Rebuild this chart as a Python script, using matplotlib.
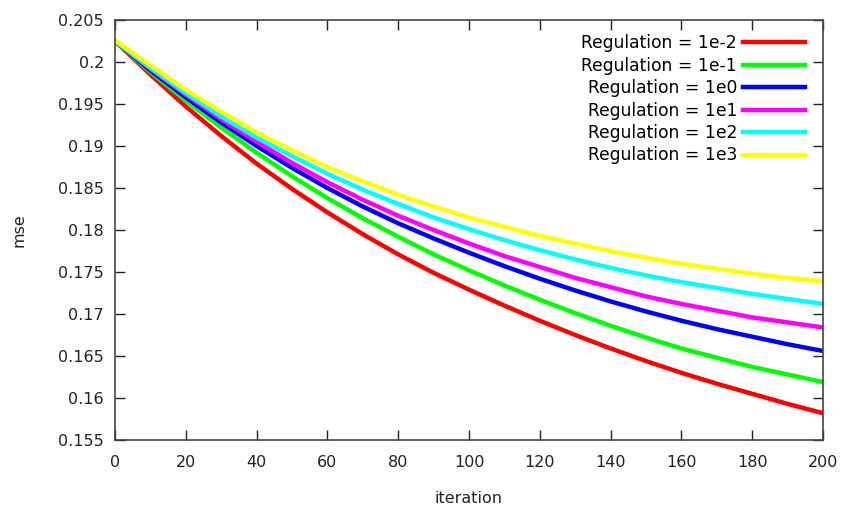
import matplotlib
matplotlib.use("Agg")
import matplotlib.pyplot as plt

iterations = [0, 10, 20, 30, 40, 50, 60, 70, 80, 90, 100,
              110, 120, 130, 140, 150, 160, 170, 180, 190, 200]
mse_1e_2 = [0.2025, 0.1985, 0.1947, 0.1912, 0.1879, 0.1849, 0.1821, 0.1795, 0.1771, 0.1749, 0.1729,
            0.1710, 0.1692, 0.1675, 0.1659, 0.1644, 0.1630, 0.1617, 0.1605, 0.1593, 0.1582]
mse_1e_1 = [0.2025, 0.1988, 0.1954, 0.1922, 0.1892, 0.1864, 0.1838, 0.1814, 0.1792, 0.1771, 0.1752,
            0.1734, 0.1717, 0.1701, 0.1686, 0.1672, 0.1659, 0.1648, 0.1637, 0.1628, 0.1619]
mse_1e0 = [0.2025, 0.1990, 0.1958, 0.1928, 0.1900, 0.1874, 0.1850, 0.1828, 0.1808, 0.1790, 0.1773,
           0.1757, 0.1742, 0.1728, 0.1715, 0.1703, 0.1692, 0.1682, 0.1673, 0.1664, 0.1656]
mse_1e1 = [0.2025, 0.1992, 0.1961, 0.1932, 0.1905, 0.1880, 0.1857, 0.1836, 0.1817, 0.1800, 0.1784,
           0.1769, 0.1756, 0.1743, 0.1732, 0.1721, 0.1712, 0.1704, 0.1696, 0.1690, 0.1684]
mse_1e2 = [0.2025, 0.1993, 0.1963, 0.1935, 0.1910, 0.1888, 0.1867, 0.1848, 0.1831, 0.1815, 0.1801,
           0.1788, 0.1776, 0.1765, 0.1755, 0.1746, 0.1738, 0.1731, 0.1724, 0.1718, 0.1712]
mse_1e3 = [0.2026, 0.1996, 0.1967, 0.1941, 0.1916, 0.1895, 0.1875, 0.1858, 0.1842, 0.1828, 0.1815,
           0.1804, 0.1793, 0.1784, 0.1775, 0.1767, 0.1760, 0.1754, 0.1748, 0.1743, 0.1739]

labels = ["Regulation = 1e-2", "Regulation = 1e-1", "Regulation = 1e0",
          "Regulation = 1e1", "Regulation = 1e2", "Regulation = 1e3"]
colors = ["#ff0000", "#00ff00", "#0000ff", "#ff00ff", "#00ffff", "#ffff00"]
series = [mse_1e_2, mse_1e_1, mse_1e0, mse_1e1, mse_1e2, mse_1e3]

x_ticks = [0, 20, 40, 60, 80, 100, 120, 140, 160, 180, 200]
y_ticks = [0.155, 0.16, 0.165, 0.17, 0.175, 0.18, 0.185, 0.19, 0.195, 0.2, 0.205]
y_tick_labels = ["0.155", "0.16", "0.165", "0.17", "0.175", "0.18", "0.185", "0.19", "0.195", "0.2", "0.205"]

plt.rcParams['font.family'] = ['DejaVu Sans']
fig = plt.figure(figsize=(8.45, 5.08), dpi=100)
ax = fig.add_axes([115/845, (508-440)/508, (823-115)/845, (440-20)/508])

for ys, c, lab in zip(series, colors, labels):
    ax.plot(iterations, ys, color=c, lw=3.2, label=lab, solid_joinstyle='round')

ax.set_xlim(0, 200)
ax.set_ylim(0.155, 0.205)
ax.set_xticks(x_ticks)
ax.set_yticks(y_ticks)
ax.set_yticklabels(y_tick_labels)
ax.tick_params(direction='in', length=7, width=1, top=True, right=True,
               labelsize=11.5, colors='#222222')
ax.tick_params(axis='x', pad=11)
ax.tick_params(axis='y', pad=8)
for s in ax.spines.values():
    s.set_color('#444444')
    s.set_linewidth(1.2)

ax.set_xlabel("iteration", fontsize=11.5, labelpad=15, color='#222222')
ax.set_ylabel("mse", fontsize=11.5, labelpad=23, color='#222222')

ax.legend(loc='upper right', frameon=False, markerfirst=False, fontsize=12.3,
          handlelength=3.6, handletextpad=0.35, labelspacing=0.26,
          borderaxespad=0.0, borderpad=0.0, bbox_to_anchor=(0.974, 0.966))

fig.savefig("out.png", dpi=100)
